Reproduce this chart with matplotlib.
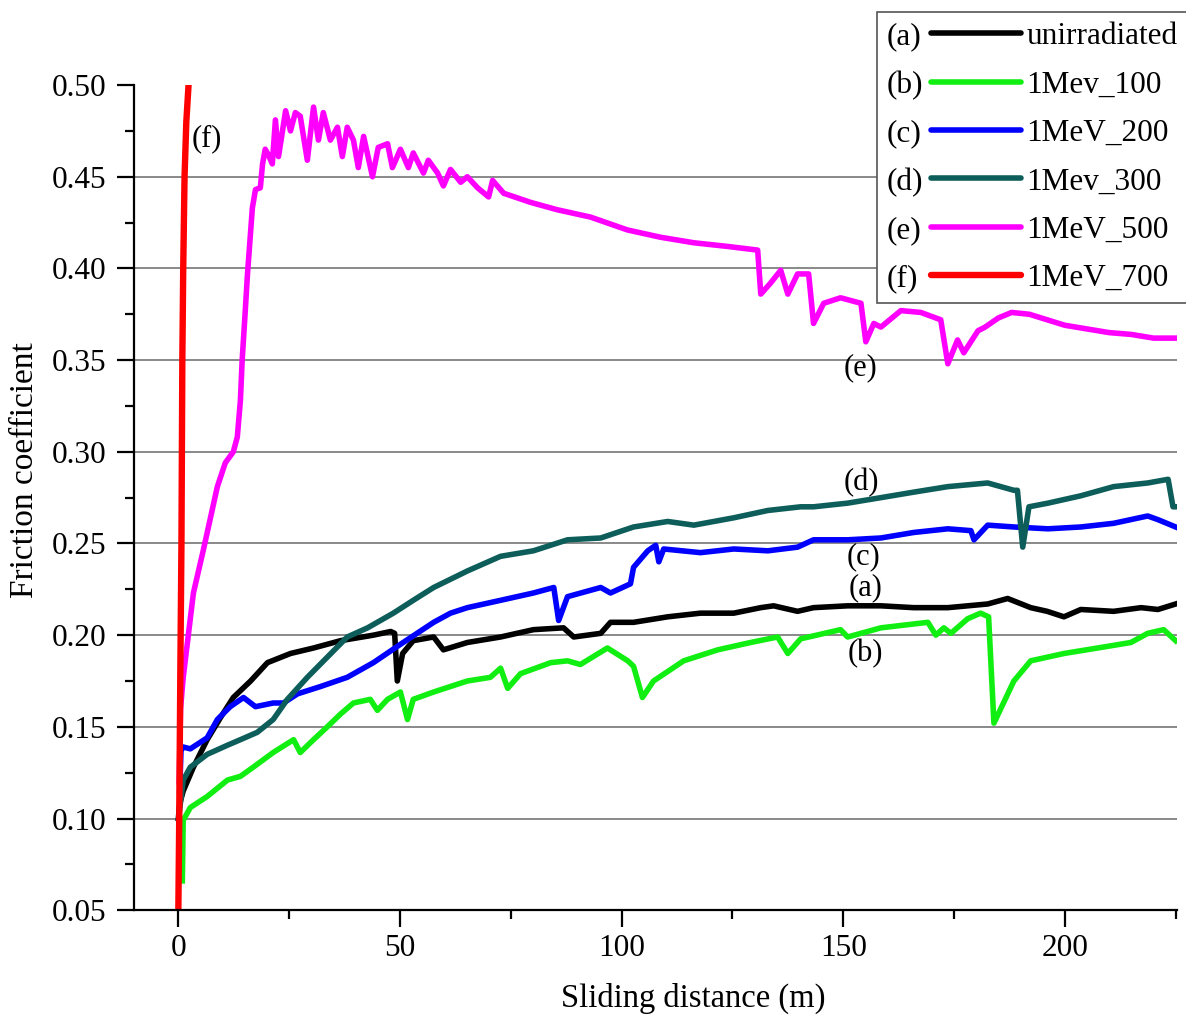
import matplotlib
matplotlib.use("Agg")
import matplotlib.pyplot as plt
from matplotlib.legend_handler import HandlerBase
from matplotlib.lines import Line2D
from matplotlib.text import Text
from matplotlib.ticker import MultipleLocator

plt.rcParams['font.family'] = ['Liberation Serif', 'DejaVu Serif']

# ---------------- data ----------------
prefixes = ["(a)", "(b)", "(c)", "(d)", "(e)", "(f)"]
series_names = ["unirradiated", "1Mev_100", "1MeV_200", "1Mev_300", "1MeV_500", "1MeV_700"]

a_x = [0, 0.3, 1.1, 3.4, 6.5, 9.5, 12.4, 16.3, 20.1, 25.3,
       30.5, 36.6, 44.0, 47.9, 48.8, 49.4, 50.6, 53.0, 57.6, 59.8,
       65.2, 72.7, 80.1, 86.9, 89.2, 95.3, 97.5, 102.7, 110.4, 117.8,
       125.3, 131.4, 134.3, 139.7, 143.3, 151.0, 158.5, 165.9, 173.6, 182.6,
       187.1, 192.3, 196.0, 199.8, 203.6, 211.0, 217.2, 221.0, 225.0]
a_y = [0.10, 0.108, 0.115, 0.128, 0.143, 0.155, 0.166, 0.175, 0.185, 0.190,
       0.193, 0.197, 0.200, 0.202, 0.201, 0.175, 0.190, 0.197, 0.199, 0.192,
       0.196, 0.199, 0.203, 0.204, 0.199, 0.201, 0.207, 0.207, 0.210, 0.212,
       0.212, 0.215, 0.216, 0.213, 0.215, 0.216, 0.216, 0.215, 0.215, 0.217,
       0.220, 0.215, 0.213, 0.210, 0.214, 0.213, 0.215, 0.214, 0.217]

b_x = [0.9, 1.1, 2.7, 6.5, 11.1, 14.0, 16.9, 21.4, 26.0,
       27.5, 30.5, 33.6, 36.6, 39.5, 43.3, 44.9, 47.2, 50.1, 51.7,
       53.0, 57.6, 65.2, 70.4, 72.7, 74.3, 77.2, 84.0, 87.8, 90.7,
       96.8, 101.4, 102.7, 104.7, 107.2, 114.0, 121.7, 129.1, 135.2, 137.5,
       140.4, 149.4, 151.0, 158.5, 169.1, 170.9, 172.7, 174.3, 178.1, 181.0,
       182.8, 184.0, 188.5, 192.3, 199.8, 207.4, 214.9, 218.7, 222.3, 225.0]
b_y = [0.066, 0.099, 0.106, 0.112, 0.121, 0.123, 0.128, 0.136, 0.143,
       0.136, 0.143, 0.150, 0.157, 0.163, 0.165, 0.159, 0.165, 0.169, 0.154,
       0.165, 0.169, 0.175, 0.177, 0.182, 0.171, 0.179, 0.185, 0.186, 0.184,
       0.193, 0.186, 0.183, 0.166, 0.175, 0.186, 0.192, 0.196, 0.199, 0.190,
       0.198, 0.203, 0.199, 0.204, 0.207, 0.200, 0.204, 0.201, 0.209, 0.212,
       0.210, 0.152, 0.175, 0.186, 0.190, 0.193, 0.196, 0.201, 0.203, 0.197]

c_x = [0.3, 0.6, 1.1, 2.7, 6.5, 8.8, 11.7, 14.7, 17.4, 21.4,
       23.7, 26.9, 32.1, 38.1, 44.0, 50.1, 57.6, 61.4, 65.2, 72.7,
       80.1, 84.7, 85.8, 87.8, 95.3, 97.5, 102.0, 102.7, 105.9, 107.7,
       108.4, 109.5, 117.8, 125.3, 133.0, 139.7, 143.3, 151.0, 158.5, 165.9,
       173.6, 178.8, 179.5, 182.6, 188.5, 196.2, 203.6, 211.0, 218.7, 221.0,
       225.0]
c_y = [0.115, 0.137, 0.139, 0.138, 0.144, 0.154, 0.161, 0.166, 0.161, 0.163,
       0.163, 0.168, 0.172, 0.177, 0.185, 0.195, 0.207, 0.212, 0.215, 0.219,
       0.223, 0.226, 0.208, 0.221, 0.226, 0.223, 0.228, 0.237, 0.246, 0.249,
       0.240, 0.247, 0.245, 0.247, 0.246, 0.248, 0.252, 0.252, 0.253, 0.256,
       0.258, 0.257, 0.252, 0.260, 0.259, 0.258, 0.259, 0.261, 0.265, 0.263,
       0.259]

d_x = [0.3, 1.1, 2.7, 6.5, 11.1, 14.0, 17.8, 21.4, 24.6, 29.1,
       33.6, 38.1, 42.7, 48.5, 53.0, 57.6, 65.2, 72.7, 80.1, 87.8,
       95.3, 102.7, 110.4, 116.3, 125.3, 133.0, 140.4, 143.3, 151.0, 158.5,
       165.9, 173.6, 182.6, 188.5, 189.3, 190.5, 191.9, 196.2, 203.6, 211.0,
       218.7, 223.3, 224.4, 225.0]
d_y = [0.105, 0.121, 0.128, 0.135, 0.140, 0.143, 0.147, 0.154, 0.165, 0.177,
       0.188, 0.199, 0.204, 0.212, 0.219, 0.226, 0.235, 0.243, 0.246, 0.252,
       0.253, 0.259, 0.262, 0.260, 0.264, 0.268, 0.270, 0.270, 0.272, 0.275,
       0.278, 0.281, 0.283, 0.279, 0.279, 0.248, 0.270, 0.272, 0.276, 0.281,
       0.283, 0.285, 0.270, 0.270]

e_x = [0.2, 0.5, 1.1, 3.4, 5.6, 8.8, 10.6, 12.4, 13.3, 14.0,
       14.4, 15.1, 15.6, 16.7, 17.4, 18.5, 19.0, 19.6, 20.3, 21.2,
       21.9, 22.6, 24.2, 25.3, 26.4, 27.5, 29.1, 30.5, 31.6, 32.7,
       34.3, 35.9, 37.0, 38.1, 39.5, 40.6, 41.8, 43.8, 45.1, 47.2,
       48.3, 50.1, 51.9, 53.0, 55.3, 56.4, 58.5, 59.8, 61.4, 63.7,
       65.2, 67.5, 70.0, 70.9, 73.4, 79.5, 85.5, 93.0, 101.3, 108.8,
       116.3, 123.9, 130.7, 131.4, 133.6, 135.9, 137.5, 139.7, 142.2, 143.3,
       145.6, 149.4, 154.0, 155.1, 156.9, 158.5, 163.0, 167.5, 172.0, 173.6,
       175.8, 177.2, 180.4, 182.0, 185.0, 188.0, 192.0, 196.0, 200.0, 205.0,
       210.0, 215.0, 220.0, 225.0]
e_y = [0.12, 0.16, 0.177, 0.223, 0.246, 0.281, 0.294, 0.300, 0.308, 0.328,
       0.350, 0.377, 0.397, 0.433, 0.443, 0.444, 0.457, 0.465, 0.462, 0.457,
       0.481, 0.461, 0.486, 0.475, 0.485, 0.483, 0.459, 0.488, 0.470, 0.485,
       0.470, 0.477, 0.461, 0.477, 0.470, 0.455, 0.472, 0.450, 0.466, 0.468,
       0.455, 0.465, 0.455, 0.463, 0.452, 0.459, 0.452, 0.445, 0.454, 0.447,
       0.450, 0.444, 0.439, 0.448, 0.441, 0.436, 0.432, 0.428, 0.421, 0.417,
       0.414, 0.412, 0.410, 0.386, 0.392, 0.399, 0.386, 0.397, 0.397, 0.370,
       0.381, 0.384, 0.381, 0.360, 0.370, 0.368, 0.377, 0.376, 0.372, 0.348,
       0.361, 0.354, 0.366, 0.368, 0.373, 0.376, 0.375, 0.372, 0.369, 0.367,
       0.365, 0.364, 0.362, 0.362]

f_x = [0, 0.2, 0.45, 0.7, 0.9, 1.1, 1.4, 1.8, 2.3]
f_y = [0.05, 0.10, 0.18, 0.25, 0.35, 0.40, 0.45, 0.48, 0.50]

xs = [a_x, b_x, c_x, d_x, e_x, f_x]
ys = [a_y, b_y, c_y, d_y, e_y, f_y]
colors = ["#000000", "#11ee11", "#0000ff", "#0d5e5a", "#ff00ff", "#ff0000"]

x_ticks = [0, 50, 100, 150, 200]
y_ticks = [0.05, 0.10, 0.15, 0.20, 0.25, 0.30, 0.35, 0.40, 0.45, 0.50]


class PrefixHandler(HandlerBase):
    def __init__(self, prefix, frac=0.33):
        super().__init__()
        self.prefix = prefix
        self.frac = frac

    def create_artists(self, legend, orig_handle, xdescent, ydescent,
                       width, height, fontsize, trans):
        yc = height / 2.0 - ydescent
        t = Text(-xdescent, yc - 0.12 * fontsize, self.prefix, fontsize=fontsize,
                 va='center', ha='left', transform=trans,
                 family=['Liberation Serif', 'DejaVu Serif'])
        x0 = -xdescent + width * self.frac
        ln = Line2D([x0, -xdescent + width], [yc, yc],
                    color=orig_handle.get_color(), lw=orig_handle.get_linewidth(),
                    solid_capstyle='round', transform=trans)
        return [t, ln]


fig = plt.figure(figsize=(11.86, 10.25), dpi=100)
ax = fig.add_axes([0.113, 0.112, 0.8794, 0.805])

lines = []
for x, y, col, name in zip(xs, ys, colors, series_names):
    lw = 4.6 if col == "#ff0000" else 4.0
    ln, = ax.plot(x, y, color=col, lw=lw, label=name, solid_joinstyle='round')
    lines.append(ln)

ax.set_xlim(-10, 225.3)
ax.set_ylim(0.05, 0.50)
ax.set_xticks(x_ticks)
ax.set_yticks(y_ticks)
ax.xaxis.set_minor_locator(MultipleLocator(25))
ax.yaxis.set_minor_locator(MultipleLocator(0.025))
ax.set_yticklabels([f"{v:.2f}" for v in y_ticks])
ax.tick_params(axis='both', which='major', direction='out', length=12, width=1.6,
               labelsize=22.5, pad=5)
ax.tick_params(axis='y', which='major', pad=8)
ax.tick_params(axis='both', which='minor', direction='out', length=6.5, width=1.6)

for s in ['top', 'right']:
    ax.spines[s].set_visible(False)
for s in ['left', 'bottom']:
    ax.spines[s].set_linewidth(1.6)

ax.yaxis.grid(True, which='major', color='#808080', lw=1.3)
ax.set_axisbelow(True)
gl = ax.get_ygridlines()
gl[-1].set_visible(False)
gl[0].set_visible(False)

ax.set_xlabel("Sliding distance (m)", fontsize=23.5)
ax.set_ylabel("Friction coefficient", fontsize=24)
ax.xaxis.set_label_coords(0.536, -0.088)
ax.yaxis.set_label_coords(-0.090, 0.533)

# curve annotations
ann_size = 22
ax.text(6.5, 0.471, "(f)", fontsize=ann_size, ha='center', va='center')
ax.text(154, 0.346, "(e)", fontsize=ann_size, ha='center', va='center')
ax.text(154, 0.283, "(d)", fontsize=ann_size, ha='center', va='center')
ax.text(154.5, 0.243, "(c)", fontsize=ann_size, ha='center', va='center')
ax.text(155, 0.226, "(a)", fontsize=ann_size, ha='center', va='center')
ax.text(155, 0.190, "(b)", fontsize=ann_size, ha='center', va='center')

hmap = {ln: PrefixHandler(p) for ln, p in zip(lines, prefixes)}
leg = fig.legend(lines, series_names, handler_map=hmap,
                 loc='upper left', bbox_to_anchor=(0.7395, 0.988),
                 bbox_transform=fig.transFigure,
                 fontsize=22.5, handlelength=4.3, handletextpad=0.15,
                 labelspacing=0.62, borderpad=0.32, borderaxespad=0,
                 frameon=True, fancybox=False, framealpha=1,
                 edgecolor='#555555')
leg.get_frame().set_linewidth(1.2)
leg.set_zorder(10)

fig.savefig("out.png", dpi=100)
